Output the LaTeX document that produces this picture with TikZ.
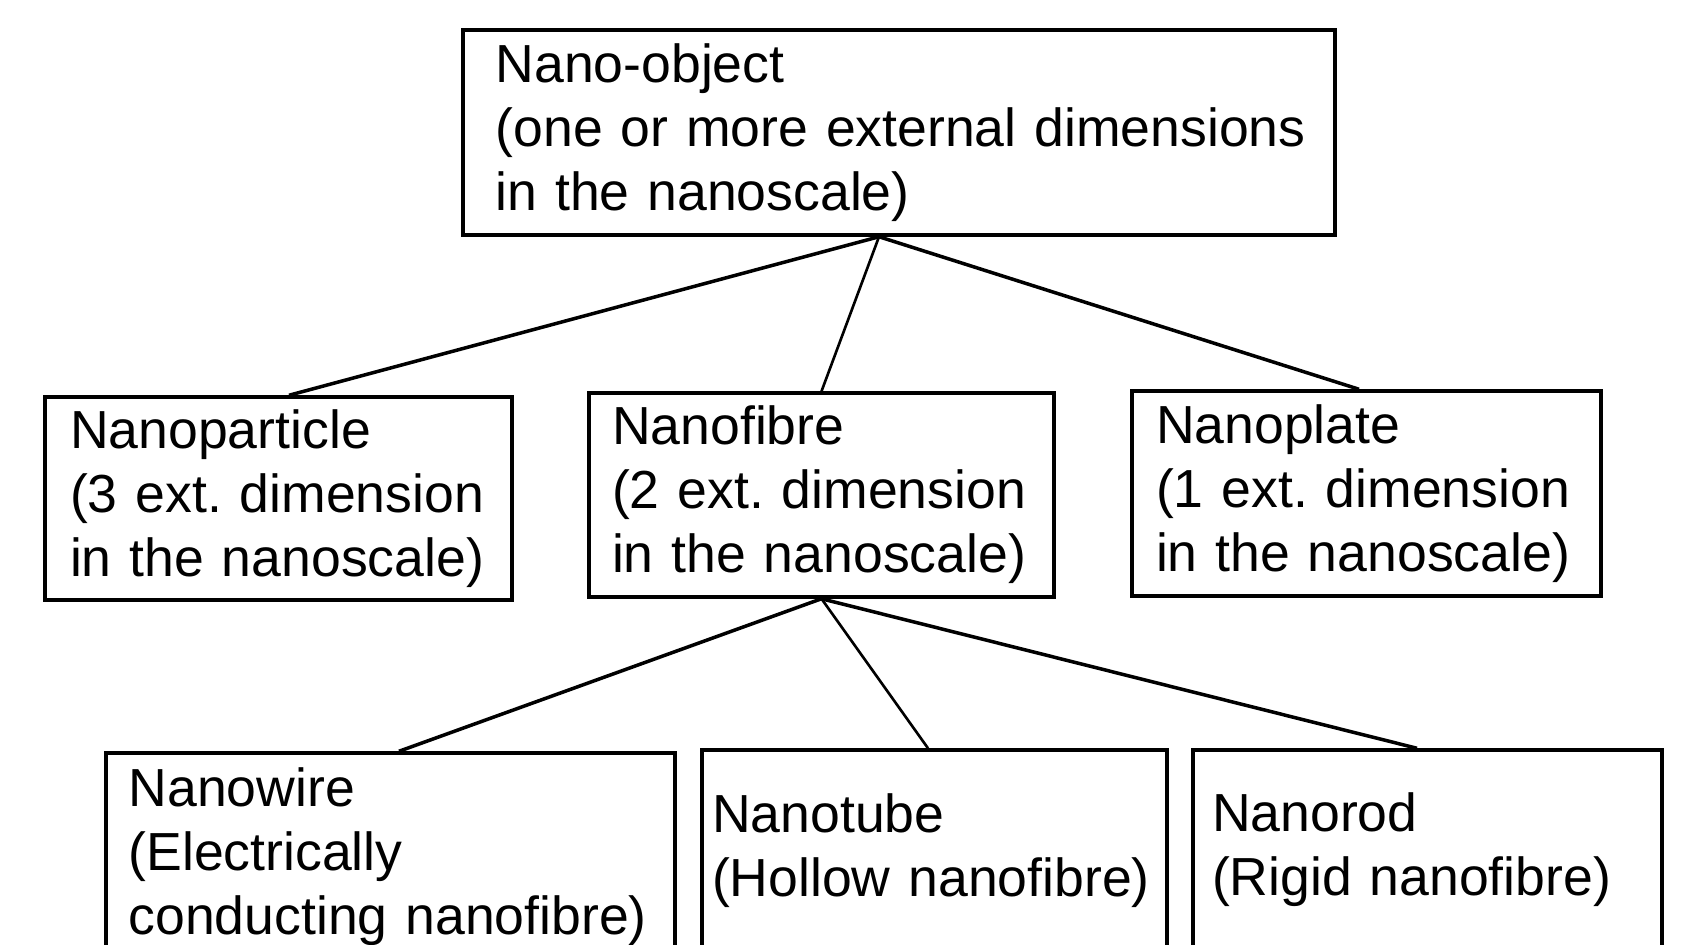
\documentclass[tikz,border=0pt]{standalone}
\usepackage{fontspec}
\setmainfont{Liberation Sans}
\usetikzlibrary{positioning,calc}
\frenchspacing
\begin{document}
\begin{tikzpicture}[x=0.02cm,y=-0.02cm]
  \tikzset{font=\fontsize{30.5}{36.4}\selectfont}
  \tikzset{box/.style = {shape=rectangle,draw,line width=2pt,align=left,inner ysep=0pt}}
  \tikzset{thin edge/.style = {draw=black,line width=1.5pt}}

  \useasboundingbox (0,0) rectangle (1681,944);
  \clip (0,0) rectangle (1681,944);

  \node[box,minimum width=17.44cm,minimum height=4.10cm,inner xsep=0.65cm,text width=16.14cm] (1) at (899,132.5) {Nano-object\\\mbox{(one or more external dimensions}\\in the nanoscale)};
  \node[box,minimum width=9.34cm,minimum height=4.06cm,inner xsep=0.5cm,text width=8.34cm] (2) at (278.5,498.5) {Nanoparticle\\\mbox{(3 ext. dimension}\\\mbox{in the nanoscale)}};
  \node[box,minimum width=9.30cm,minimum height=4.08cm,inner xsep=0.46cm,text width=8.38cm] (3) at (821.5,495) {Nanofibre\\\mbox{(2 ext. dimension}\\\mbox{in the nanoscale)}};
  \node[box,minimum width=9.38cm,minimum height=4.10cm,inner xsep=0.48cm,text width=8.42cm] (4) at (1366.5,493.5) {Nanoplate\\\mbox{(1 ext. dimension}\\\mbox{in the nanoscale)}};
  \node[box,minimum width=11.38cm,minimum height=4.16cm,inner xsep=0.45cm,text width=10.48cm] (5) at (390.5,857) {Nanowire\\(Electrically\\\mbox{conducting nanofibre)}};
  \node[box,minimum width=9.30cm,minimum height=4.04cm,inner xsep=0.2cm,text width=8.90cm] (6) at (934.5,851) {Nanotube\\\mbox{(Hollow nanofibre)}};
  \node[box,minimum width=9.38cm,minimum height=4.00cm,inner xsep=0.38cm,text width=8.62cm] (7) at (1427.5,850) {Nanorod\\\mbox{(Rigid nanofibre)}};

  \path[every edge/.style={draw=black,line width=2pt}]
  ([xshift=-0.4cm]1.south) edge ([xshift=0.21cm]2.north)
  ([xshift=-0.4cm]1.south) edge[thin edge] (3.north)
  ([xshift=-0.4cm]1.south) edge ([xshift=-0.15cm]4.north)
  (3.south) edge ([xshift=0.17cm]5.north)
  (3.south) edge[thin edge] ([xshift=-0.13cm]6.north)
  (3.south) edge ([xshift=-0.21cm]7.north)
  ;
\end{tikzpicture}
\end{document}
